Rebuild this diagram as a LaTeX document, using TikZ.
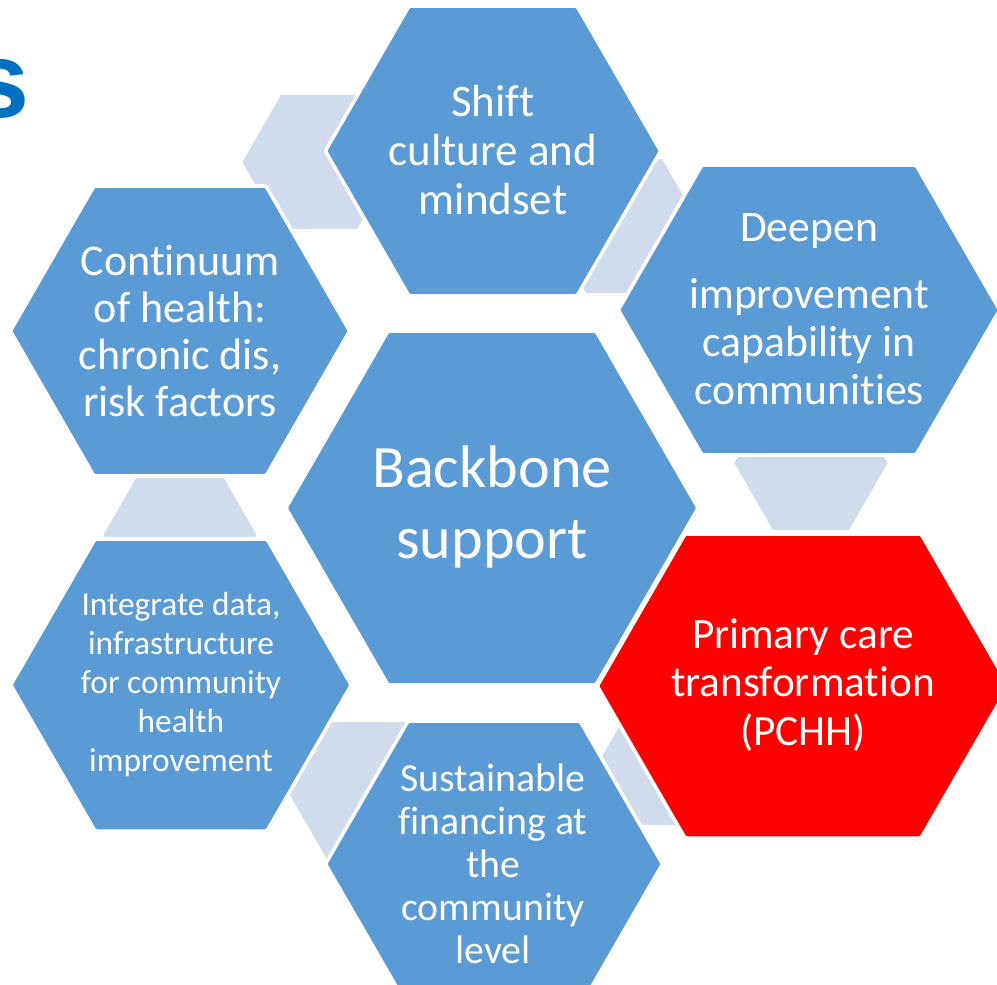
\documentclass[tikz,border=0pt]{standalone}
\usepackage{fontspec}
\setmainfont{Carlito}[Ligatures=NoCommon]
\newfontfamily\titlefont{Liberation Sans}
\definecolor{hexblue}{HTML}{5B9BD5}
\definecolor{linkblue}{HTML}{D0DCEE}
\definecolor{titleblue}{HTML}{0070C0}
% 六边形: 样式, 中心 x, 中心 y, 平边半长, 半高
\newcommand{\hexcell}[5]{%
  \path[#1] ({#2-#4-#5*0.577},#3) -- ({#2-#4},{#3-#5}) -- ({#2+#4},{#3-#5})
    -- ({#2+#4+#5*0.577},#3) -- ({#2+#4},{#3+#5}) -- ({#2-#4},{#3+#5}) -- cycle;}
\begin{document}
\begin{tikzpicture}[x=0.01cm, y=-0.01cm,
  bluehex/.style={fill=hexblue, draw=white, line width=1pt, rounded corners=0.6pt},
  redhex/.style={bluehex, fill=red},
  linkhex/.style={fill=linkblue},
  hextext/.style={text=white, align=center, inner sep=0pt}]
  \useasboundingbox (0,0) rectangle (997,985);
  \clip (0,0) rectangle (997,985);
  % 浅色连接块
  \hexcell{linkhex}{319}{162}{38}{67}
  \hexcell{linkhex}{624}{226}{38}{67}
  \hexcell{linkhex}{811}{463}{38}{67}
  \hexcell{linkhex}{660}{776}{41}{49}
  \hexcell{linkhex}{374}{795}{42}{73}
  \hexcell{linkhex}{180}{535}{38}{67}
  % 六边形
  \hexcell{bluehex}{493}{151}{84}{145}
  \hexcell{bluehex}{180}{331}{86}{145}
  \hexcell{bluehex}{809}{310}{107}{145}
  \hexcell{bluehex}{492}{508}{104}{177}
  \hexcell{redhex}{803}{686}{118}{152}
  \hexcell{bluehex}{181}{685}{86}{146}
  \hexcell{bluehex}{494}{864}{86}{143}
  % 文字
  \node[anchor=base, text=titleblue, font=\titlefont\bfseries\fontsize{30.7}{36}\selectfont] (title) at (0,118) {s};
  \node[hextext, font=\fontsize{12.8}{13.9}\selectfont] (shift) at (493,150) {Shift\\culture and\\mindset};
  \node[hextext, font=\fontsize{12.5}{13.4}\selectfont] (continuum) at (180,331) {Continuum\\of health:\\chronic dis,\\risk factors};
  \node[hextext, font=\fontsize{12.4}{13.7}\selectfont] (deepen) at (809,309) {Deepen\\[5.4pt]improvement\\capability in\\communities};
  \node[hextext, font=\fontsize{17.1}{20.2}\selectfont] (backbone) at (492,507) {Backbone\\support};
  \node[hextext, font=\fontsize{12.3}{13.7}\selectfont] (primary) at (803,685) {Primary care\\transformation\\(PCHH)};
  \node[hextext, font=\fontsize{9.5}{11.1}\selectfont] (integrate) at (181,685) {Integrate data,\\infrastructure\\for community\\health\\improvement};
  \node[hextext, font=\fontsize{11.3}{12.2}\selectfont] (sustainable) at (493,864) {Sustainable\\financing at\\the\\community\\level};
\end{tikzpicture}
\end{document}
